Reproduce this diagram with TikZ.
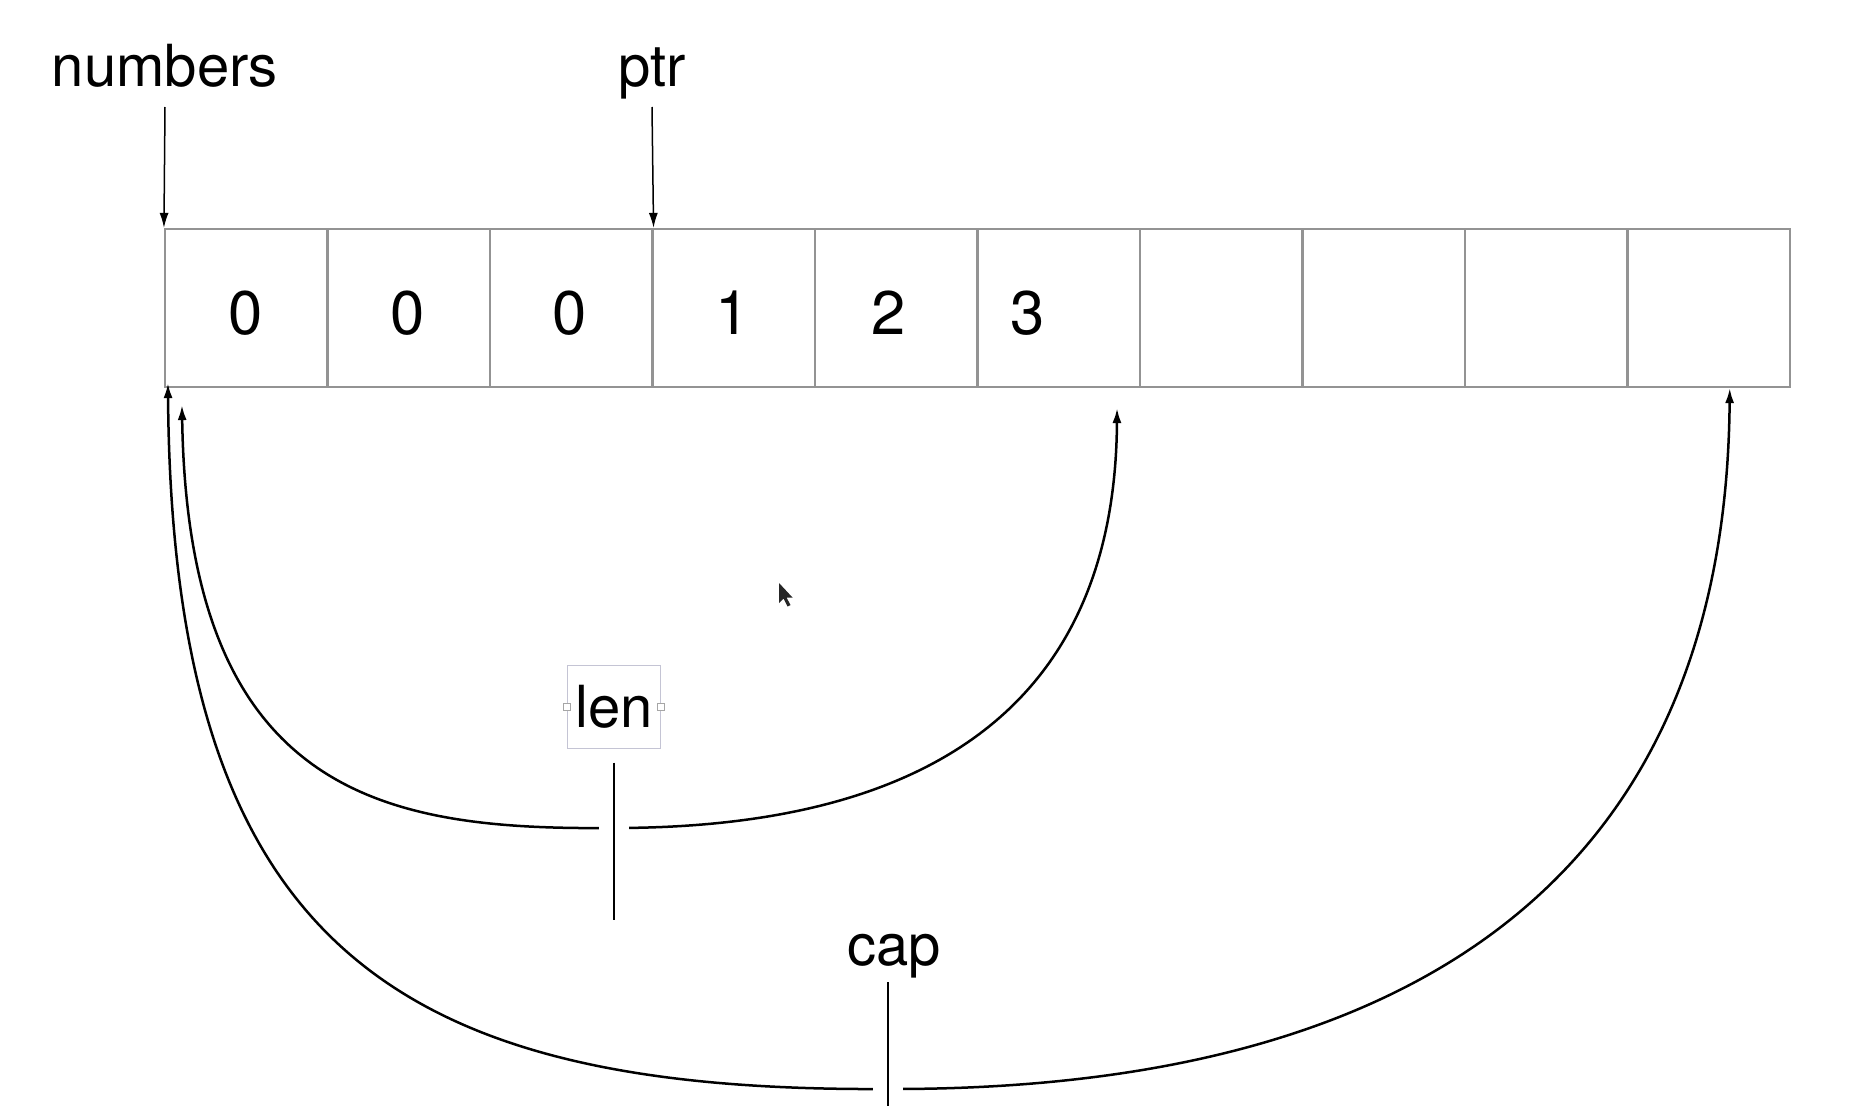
\documentclass[tikz,border=0pt]{standalone}
\usepackage{fontspec}
\setmainfont{TeX Gyre Heros}
\usetikzlibrary{arrows.meta}
\tikzset{
  cell/.style={draw=gray!85, line width=0.02cm, minimum width=1.625cm, minimum height=1.58cm, inner sep=0pt},
  digit/.style={font=\fontsize{17.5}{21}\selectfont, inner sep=0pt, anchor=base},
  lbl/.style={font=\fontsize{16.5}{20}\selectfont, inner sep=0pt, anchor=base},
  selbox/.style={draw=blue!15!gray!40, line width=0.01cm, minimum width=0.92cm, minimum height=0.82cm, inner sep=0pt, font=\fontsize{16.5}{20}\selectfont},
  handle/.style={draw=gray!70, fill=white, line width=0.01cm, minimum size=0.07cm, inner sep=0pt},
  curve/.style={line width=0.025cm, <->},
  stem/.style={line width=0.015cm, preaction={draw=white, line width=0.3cm}},
}
\begin{document}
\begin{tikzpicture}[x=0.01cm, y=-0.01cm, >={Latex[length=0.15cm, width=0.09cm]}]
\useasboundingbox (0,0) rectangle (1862,1106);
\fill[white] (0,0) rectangle (1862,1106);
% array cells
\foreach \i in {1,...,10}
  \node[cell] (c\i) at ({165+81.25+(\i-1)*162.5},308) {};
\foreach \x/\d [count=\k] in {246/0,408/0,570/0,733/1,889/2,1028/3}
  \node[digit] (d\k) at (\x,334) {\d};
% labels
\node[lbl] (numbers) at (165,87) {numbers};
\node[lbl] (ptr) at (652,87) {ptr};
\draw[->, line width=0.015cm] (numbers.base) ++(0,20) -- (c1.north west);
\draw[->, line width=0.015cm] (ptr.base) ++(0,20) -- (c3.north east);
\node[selbox] (len) at (614,707) {len};
\node[handle] (hl) at (len.west) {};
\node[handle] (hr) at (len.east) {};
\node[lbl] (cap) at (894,965) {cap};
% curves
\coordinate (lenL) at ([shift={(18,17)}]c1.south west);
\coordinate (lenR) at ([shift={(-24,20)}]c6.south east);
\coordinate (lenB) at (614,828);
\coordinate (capL) at ([shift={(4,-5)}]c1.south west);
\coordinate (capR) at ([shift={(21,0)}]c10.south);
\coordinate (capB) at (888,1089);
\draw[curve] (lenL) .. controls (188,800) and (390,830) .. (lenB) .. controls (850,828) and (1115,760) .. (lenR);
\draw[curve] (capL) .. controls (172,950) and (400,1092) .. (capB) .. controls (1250,1090) and (1725,990) .. (capR);
% stems
\coordinate (lenE) at (614,920);
\coordinate (capE) at (888,1120);
\draw[stem] (len.south) ++(0,14) -- (lenE);
\draw[stem] (cap.south -| capB) ++(0,4) -- (capE);
% cursor
\fill[black!85] (779,583) -- ++(0,20) -- ++(4.5,-4.5) -- ++(4,8) -- ++(3,-1.5) -- ++(-4,-7.5) -- ++(6,0) -- cycle;
\end{tikzpicture}
\end{document}
